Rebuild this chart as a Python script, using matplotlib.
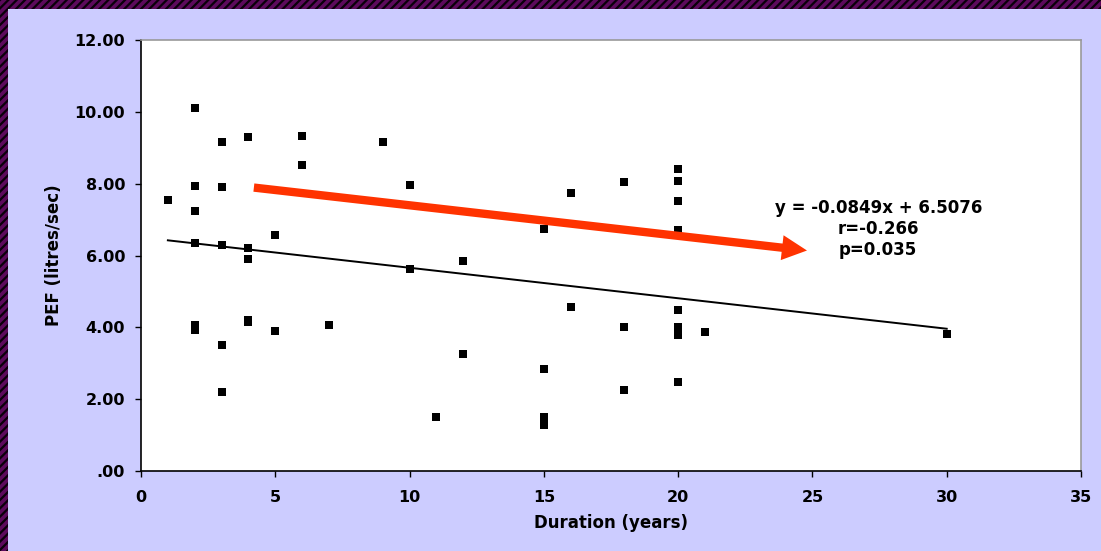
import matplotlib
matplotlib.use("Agg")
import matplotlib.pyplot as plt
from matplotlib.patches import Rectangle, FancyArrowPatch, ArrowStyle

# data
duration = [1,
            2, 2, 2, 2, 2, 2,
            3, 3, 3, 3, 3,
            4, 4, 4, 4, 4,
            5, 5,
            6, 6,
            7,
            9,
            10, 10,
            11,
            12, 12,
            15, 15, 15, 15,
            16, 16,
            18, 18, 18,
            20, 20, 20, 20, 20, 20, 20, 20,
            21,
            30]
pef = [7.54,
       10.11, 7.93, 7.25, 6.35, 4.07, 3.93,
       9.17, 7.90, 6.30, 3.52, 2.19,
       9.29, 6.21, 5.91, 4.20, 4.15,
       6.58, 3.91,
       9.32, 8.52,
       4.06,
       9.15,
       7.95, 5.63,
       1.50,
       5.85, 3.27,
       6.75, 2.83, 1.50, 1.29,
       7.73, 4.57,
       8.05, 4.02, 2.26,
       8.41, 8.07, 7.53, 6.72, 4.48, 4.00, 3.78, 2.49,
       3.88,
       3.81]

slope = -0.0849
intercept = 6.5076
fit_x = [1, 30]
stats_lines = ["y = -0.0849x + 6.5076", "r=-0.266", "p=0.035"]

# red arrow (start, end) in data units
arrow_start = (4.1, 7.90)
arrow_end = (24.9, 6.13)

xticks = [0, 5, 10, 15, 20, 25, 30, 35]
yticks = [0, 2, 4, 6, 8, 10, 12]
ytick_labels = [".00", "2.00", "4.00", "6.00", "8.00", "10.00", "12.00"]

plt.rcParams['font.family'] = ['DejaVu Sans']
plt.rcParams['font.weight'] = 'bold'
plt.rcParams['hatch.linewidth'] = 1.6

W, H = 1101, 551
fig = plt.figure(figsize=(W / 100, H / 100), dpi=100)
fig.patch.set_facecolor('#CCCCFF')

# hatched purple border on the left and top edges
border_kw = dict(transform=fig.transFigure, facecolor='#5c0a5c', edgecolor='#0a000a',
                 hatch='////', linewidth=0, zorder=-10)
fig.patches.append(Rectangle((0, 0), 8 / W, 1, **border_kw))
fig.patches.append(Rectangle((0, 1 - 9 / H), 1, 9 / H, **border_kw))

ax = fig.add_axes([141 / W, 1 - 471 / H, 940 / W, 431 / H])
ax.set_facecolor('white')

# slightly wide square markers like the original
rect = [(-1, -0.8), (1, -0.8), (1, 0.8), (-1, 0.8), (-1, -0.8)]
ax.scatter(duration, pef, marker=rect, s=40, color='black', linewidths=0, zorder=3)

fit_y = [slope * x + intercept for x in fit_x]
ax.plot(fit_x, fit_y, color='black', linewidth=1.4, zorder=2)

arrow = FancyArrowPatch(arrow_start, arrow_end,
                        arrowstyle=ArrowStyle.Simple(head_length=18, head_width=18, tail_width=6),
                        mutation_scale=1, color='#FF3300', linewidth=0, zorder=4)
ax.add_patch(arrow)

for i, line in enumerate(stats_lines):
    ax.text(27.45, 7.32 - i * 0.585, line, ha='center', va='center',
            fontsize=12, fontweight='bold', color='black')

ax.set_xlim(0, 35)
ax.set_ylim(0, 12)
ax.set_xticks(xticks)
ax.set_yticks(yticks)
ax.set_yticklabels(ytick_labels)
ax.tick_params(axis='both', direction='out', length=4.5, width=1, labelsize=11.5)
ax.tick_params(axis='x', pad=9)
ax.tick_params(axis='y', pad=7)
for lbl in ax.get_xticklabels() + ax.get_yticklabels():
    lbl.set_fontweight('bold')

ax.spines['left'].set_color('black')
ax.spines['bottom'].set_color('black')
ax.spines['top'].set_color('#999999')
ax.spines['right'].set_color('#999999')
for s in ax.spines.values():
    s.set_linewidth(1.2)

ax.set_xlabel('Duration (years)', fontsize=12, fontweight='bold')
ax.set_ylabel('PEF (litres/sec)', fontsize=12, fontweight='bold')
ax.xaxis.set_label_coords(0.5, -0.1)
ax.yaxis.set_label_coords(-0.083, 0.5)

fig.savefig('out.png', dpi=100, facecolor=fig.get_facecolor())
